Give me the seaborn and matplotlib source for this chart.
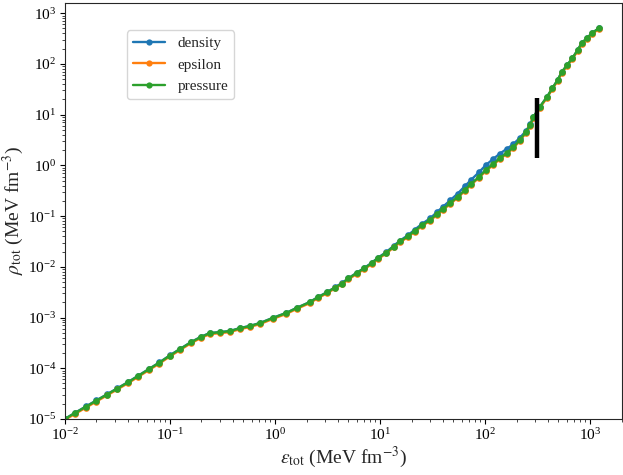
import matplotlib
matplotlib.use("Agg")
import matplotlib.pyplot as plt
import seaborn as sns
import pandas as pd

# ---- data ----
eps_tot = [0.0100, 0.01259, 0.01585, 0.01995, 0.02512, 0.03162, 0.03981, 0.05012,
           0.06310, 0.07943, 0.1000, 0.1259, 0.1585, 0.1995, 0.2399, 0.3020,
           0.3715, 0.4677, 0.5754, 0.7244, 0.9550, 1.288, 1.622, 2.138, 2.570,
           3.162, 3.715, 4.315, 5.012, 6.026, 7.079, 8.318, 9.550, 11.48, 13.49,
           15.49, 18.62, 21.38, 25.12, 30.20, 34.67, 39.81, 46.77, 54.95, 64.57,
           74.13, 87.10, 102.3, 120.2, 138.0, 162.2, 186.2, 213.8, 245.5, 269.2,
           288.4, 331.1, 389.0, 436.5, 489.8, 537.0, 602.6, 676.1, 758.6, 831.8,
           933.3, 1047.0, 1202.0]

p_pressure = [1.000e-5, 1.318e-5, 1.738e-5, 2.291e-5, 3.020e-5, 3.981e-5, 5.248e-5, 7.079e-5,
              9.550e-5, 1.288e-4, 1.778e-4, 2.400e-4, 3.236e-4, 4.169e-4, 4.898e-4, 5.129e-4,
              5.370e-4, 6.166e-4, 6.761e-4, 7.762e-4, 9.772e-4, 1.230e-3, 1.549e-3, 1.995e-3, 2.512e-3,
              3.162e-3, 3.890e-3, 4.677e-3, 5.888e-3, 7.586e-3, 9.333e-3, 1.175e-2, 1.479e-2, 1.905e-2, 2.512e-2,
              3.162e-2, 4.074e-2, 5.129e-2, 6.607e-2, 8.511e-2, 0.1096, 0.1380, 0.1820, 0.2399, 0.3311,
              0.4365, 0.5888, 0.8128, 1.072, 1.380, 1.778, 2.291, 3.162, 4.571, 6.310,
              8.913, 14.13, 22.39, 33.11, 47.86, 69.18, 94.40, 128.8, 186.2, 257.0,
              323.6, 407.4, 501.2]

p_density = [1.000e-5, 1.330e-5, 1.760e-5, 2.320e-5, 3.050e-5, 4.020e-5, 5.300e-5, 7.150e-5,
             9.650e-5, 1.300e-4, 1.795e-4, 2.425e-4, 3.270e-4, 4.210e-4, 4.950e-4, 5.180e-4,
             5.420e-4, 6.220e-4, 6.820e-4, 7.830e-4, 9.860e-4, 1.241e-3, 1.563e-3, 2.013e-3, 2.535e-3,
             3.190e-3, 3.925e-3, 4.720e-3, 5.950e-3, 7.680e-3, 9.470e-3, 1.195e-2, 1.510e-2, 1.950e-2, 2.590e-2,
             3.280e-2, 4.240e-2, 5.400e-2, 7.000e-2, 9.120e-2, 0.1190, 0.1530, 0.2060, 0.2780, 0.3930,
             0.5250, 0.7250, 1.023, 1.349, 1.698, 2.138, 2.630, 3.470, 4.790, 6.456,
             8.913, 14.13, 22.39, 33.11, 47.86, 69.18, 94.40, 128.8, 186.2, 257.0,
             323.6, 407.4, 501.2]

p_epsilon = [0.960e-5, 1.265e-5, 1.668e-5, 2.200e-5, 2.900e-5, 3.822e-5, 5.038e-5, 6.796e-5,
             9.168e-5, 1.236e-4, 1.707e-4, 2.304e-4, 3.107e-4, 4.002e-4, 4.702e-4, 4.924e-4,
             5.155e-4, 5.919e-4, 6.491e-4, 7.452e-4, 9.381e-4, 1.181e-3, 1.487e-3, 1.915e-3, 2.412e-3,
             3.036e-3, 3.734e-3, 4.490e-3, 5.652e-3, 7.283e-3, 8.960e-3, 1.128e-2, 1.420e-2, 1.829e-2, 2.412e-2,
             3.036e-2, 3.911e-2, 4.924e-2, 6.343e-2, 8.171e-2, 0.1052, 0.1325, 0.1747, 0.2303, 0.3179,
             0.4190, 0.5652, 0.7803, 1.029, 1.325, 1.707, 2.200, 3.036, 4.388, 6.058,
             8.556, 13.56, 21.49, 31.79, 45.95, 66.41, 90.62, 123.6, 178.8, 246.7,
             310.7, 391.1, 481.2]

cut_x = [313.0, 313.0]
cut_y = [1.4, 21.0]

series_names = ["density", "epsilon", "pressure"]

# ---- build long table ----
frames = []
for name, vals in zip(series_names, [p_density, p_epsilon, p_pressure]):
    frames.append(pd.DataFrame({"eps": eps_tot, "p": vals, "series": name}))
df = pd.concat(frames, ignore_index=True)

sns.set_style("ticks")
plt.rcParams["font.family"] = ["Liberation Serif", "DejaVu Serif"]
plt.rcParams["mathtext.fontset"] = "stix"
plt.rcParams["xtick.major.size"] = 3.5
plt.rcParams["ytick.major.size"] = 3.5
plt.rcParams["xtick.minor.size"] = 2
plt.rcParams["ytick.minor.size"] = 2
plt.rcParams["axes.edgecolor"] = "0.15"

fig = plt.figure(figsize=(6.23, 4.75), dpi=100)
ax = fig.add_axes([0.104, 0.118, 0.894, 0.876])

palette = ["#1f77b4", "#ff7f0e", "#2ca02c"]
sns.lineplot(data=df, x="eps", y="p", hue="series", hue_order=series_names,
             palette=palette, sort=False, estimator=None,
             marker="o", markersize=4.8, markeredgewidth=0, linewidth=1.7,
             ax=ax)

ax.plot(cut_x, cut_y, color="black", linewidth=3.2, solid_capstyle="butt")

ax.set_xscale("log")
ax.set_yscale("log")
ax.set_xlim(1e-2, 2000)
ax.set_ylim(1e-5, 1600)

ax.set_xlabel(r"$\varepsilon_{\rm tot}$ (MeV fm$^{-3}$)", fontsize=14, labelpad=1)
ax.set_ylabel(r"$\rho_{\rm tot}$ (MeV fm$^{-3}$)", fontsize=14, labelpad=1)
ax.tick_params(axis="both", which="major", labelsize=11, colors="black", pad=2.5)

leg = ax.legend(loc="upper left", bbox_to_anchor=(0.098, 0.952), fontsize=11,
                frameon=True, fancybox=True, framealpha=0.8, edgecolor="0.8",
                labelspacing=0.5, handlelength=2.1)
for h in leg.legend_handles:
    h.set_marker("o")
    h.set_markersize(4.5)

fig.savefig("out.png", dpi=100)
